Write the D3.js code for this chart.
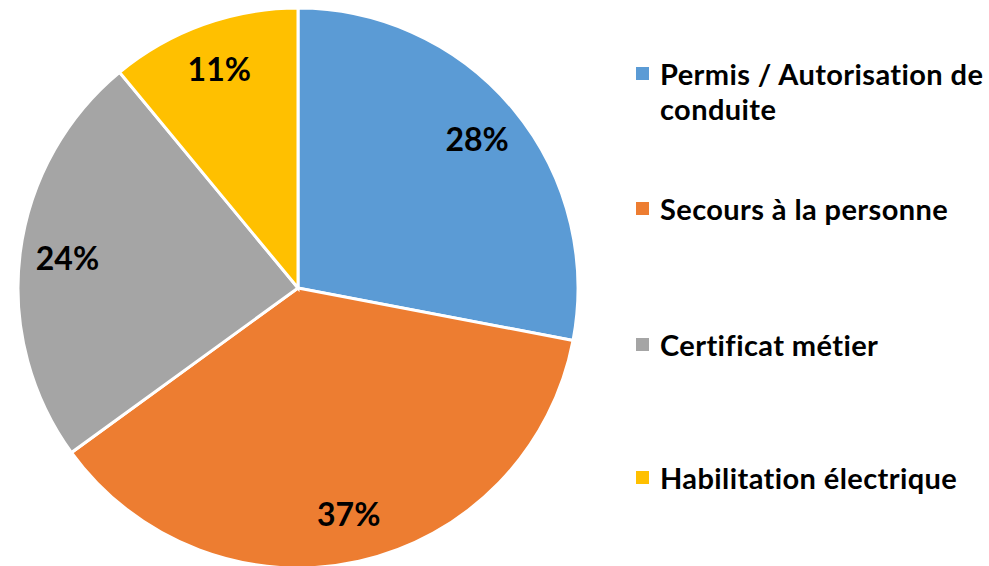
<!DOCTYPE html>
<html>
<head>
<meta charset="utf-8">
<script src="https://cdn.jsdelivr.net/npm/d3@7"></script>
<style>
  body { margin: 0; background: #fff; }
  text { font-family: "Lato", "Open Sans", sans-serif; font-weight: bold; fill: #000; }
</style>
</head>
<body>
<div id="chart"></div>
<script>
// data
const categories = ["Permis / Autorisation de conduite", "Secours à la personne", "Certificat métier", "Habilitation électrique"];
const values = [28, 37, 24, 11];
const legendLines = [["Permis / Autorisation de", "conduite"], ["Secours à la personne"], ["Certificat métier"], ["Habilitation électrique"]];
const colors = ["#5B9BD5", "#ED7D31", "#A5A5A5", "#FFC000"];

const width = 989, height = 566;
const cx = 298, cy = 288, r = 280;

const svg = d3.select("#chart").append("svg")
    .attr("width", width)
    .attr("height", height);

const pie = d3.pie().sort(null).value(d => d);
const arcs = pie(values);

const arc = d3.arc().innerRadius(0).outerRadius(r);
const labelArc = d3.arc().innerRadius(r * 0.83).outerRadius(r * 0.83);

const g = svg.append("g").attr("transform", `translate(${cx},${cy})`);

g.selectAll("path.slice")
    .data(arcs)
    .enter()
    .append("path")
    .attr("class", "slice")
    .attr("d", arc)
    .attr("fill", (d, i) => colors[i])
    .attr("stroke", "#fff")
    .attr("stroke-width", 3);

g.selectAll("text.pct")
    .data(arcs)
    .enter()
    .append("text")
    .attr("class", "pct")
    .attr("transform", d => `translate(${labelArc.centroid(d)})`)
    .attr("text-anchor", "middle")
    .attr("dy", "0.35em")
    .attr("font-size", 32)
    .text(d => d.data + "%");

// legend
const legendX = 636, lineH = 35;
const legendY = [85, 220, 356, 489]; // baseline of first line per entry
const legend = svg.append("g").attr("class", "legend");

legendLines.forEach((lines, i) => {
    const item = legend.append("g").attr("transform", `translate(${legendX},${legendY[i]})`);
    item.append("rect")
        .attr("x", 0)
        .attr("y", -18)
        .attr("width", 13)
        .attr("height", 13)
        .attr("fill", colors[i]);
    lines.forEach((t, j) => {
        item.append("text")
            .attr("x", 24)
            .attr("y", j * lineH)
            .attr("font-size", 29)
            .attr("letter-spacing", 0.4)
            .text(t);
    });
});
</script>
</body>
</html>
